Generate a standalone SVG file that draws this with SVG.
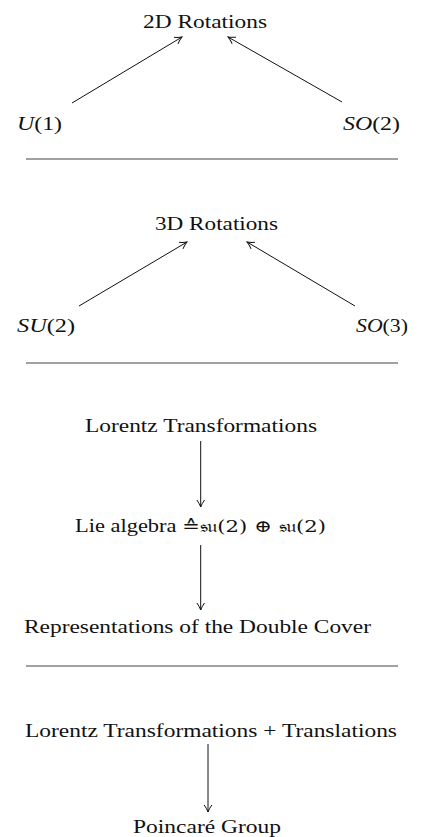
<svg xmlns="http://www.w3.org/2000/svg" width="427" height="837" viewBox="0 0 427 837">
<style>
text{font-family:"Liberation Serif","DejaVu Serif",serif;font-size:18px;fill:#111}
.m{font-style:italic}
.sep{stroke:#444;stroke-width:1}
.e{stroke:#111;stroke-width:1;fill:none;marker-end:url(#a)}
.fr{font-family:"DejaVu Serif","DejaVu Sans","Noto Sans",serif;font-size:17px}
</style>
<defs>
<marker id="a" markerUnits="userSpaceOnUse" markerWidth="12" markerHeight="12" refX="8" refY="6" orient="auto">
<path d="M1,2.2 Q5,5 8,6 Q5,7 1,9.8" fill="none" stroke="#111" stroke-width="1"/>
</marker>
</defs>
<rect width="427" height="837" fill="#fff"/>
<g id="connectors">
<line class="e" x1="72" y1="103" x2="182" y2="37"/>
<line class="e" x1="342" y1="102" x2="228" y2="37"/>
<line class="e" x1="79" y1="306" x2="187" y2="242"/>
<line class="e" x1="355" y1="306" x2="247" y2="242"/>
<line class="e" x1="200.7" y1="441" x2="200.7" y2="507"/>
<line class="e" x1="200.7" y1="545" x2="200.7" y2="610"/>
<line class="e" x1="208" y1="744" x2="208" y2="812"/>
</g>
<g id="separators">
<line class="sep" x1="26" y1="159" x2="398" y2="159"/>
<line class="sep" x1="26" y1="363" x2="398" y2="363"/>
<line class="sep" x1="26" y1="666" x2="398" y2="666"/>
</g>
<g id="rot2d"><text x="143" y="28" textLength="124" lengthAdjust="spacingAndGlyphs">2D Rotations</text></g>
<g id="u1"><text x="17" y="130" textLength="45" lengthAdjust="spacingAndGlyphs"><tspan class="m">U</tspan>(1)</text></g>
<g id="so2"><text x="343" y="130" textLength="57" lengthAdjust="spacingAndGlyphs"><tspan class="m">SO</tspan>(2)</text></g>
<g id="rot3d"><text x="155" y="230" textLength="123" lengthAdjust="spacingAndGlyphs">3D Rotations</text></g>
<g id="su2"><text x="17" y="332" textLength="58" lengthAdjust="spacingAndGlyphs"><tspan class="m">SU</tspan>(2)</text></g>
<g id="so3"><text x="356" y="332" textLength="52" lengthAdjust="spacingAndGlyphs"><tspan class="m">SO</tspan>(3)</text></g>
<g id="lorentz"><text x="85" y="432" textLength="232" lengthAdjust="spacingAndGlyphs">Lorentz Transformations</text></g>
<g id="lie"><text x="75" y="532" textLength="251" lengthAdjust="spacingAndGlyphs">Lie algebra <tspan class="fr">≙𝔰𝔲(2) ⊕ 𝔰𝔲(2)</tspan></text></g>
<g id="rep"><text x="24" y="633" textLength="347" lengthAdjust="spacingAndGlyphs">Representations of the Double Cover</text></g>
<g id="lorentztr"><text x="25" y="737" textLength="372" lengthAdjust="spacingAndGlyphs">Lorentz Transformations + Translations</text></g>
<g id="poincare"><text x="133" y="833" textLength="148" lengthAdjust="spacingAndGlyphs">Poincaré Group</text></g>
</svg>
